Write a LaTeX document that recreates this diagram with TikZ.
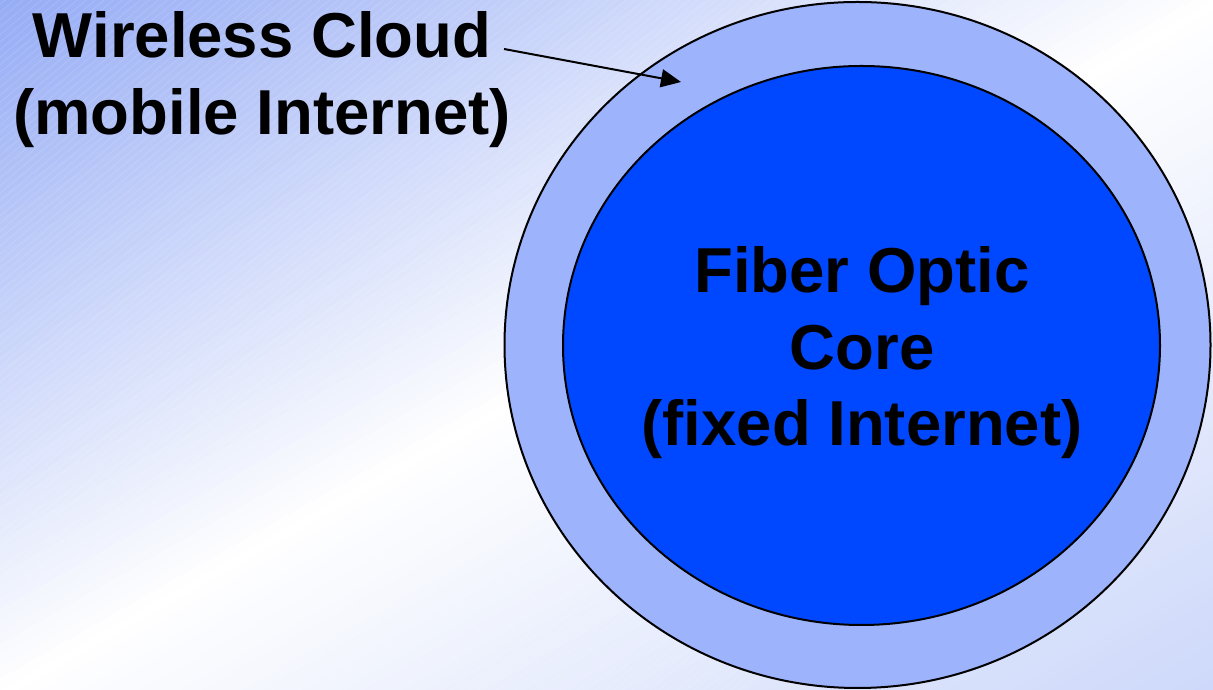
\documentclass[tikz,border=0pt]{standalone}
\usepackage{fontspec}
\setmainfont{Liberation Sans}
\usetikzlibrary{arrows.meta,shapes.geometric}
\definecolor{bgtl}{RGB}{150,172,245}
\definecolor{bgbr}{RGB}{205,216,250}
\definecolor{ringblue}{RGB}{157,180,253}
\definecolor{coreblue}{RGB}{0,72,255}
\begin{document}
\begin{tikzpicture}[x=1pt,y=1pt,
  lbl/.style={font=\fontsize{63.5}{76.5}\selectfont\bfseries, align=center, inner sep=0pt, text=black},
  disc/.style={ellipse, draw=black, line width=2pt, inner sep=0pt},
  pointer/.style={line width=2pt, -{Triangle[length=20pt,width=18pt]}}]
\useasboundingbox (0,0) rectangle (1213,690);
% background
\begin{scope}
  \clip (0,0) rectangle (1213,690);
  \begin{scope}[shift={(606.5,345)}, rotate=-60.37]
    \foreach \k in {0,...,119} {
      \pgfmathsetmacro{\t}{-600+10*\k}
      \pgfmathtruncatemacro{\pa}{min(100,(\k+0.5)/60*100)}
      \pgfmathtruncatemacro{\pb}{max(0,(\k+0.5-60)/60*100)}
      \ifnum\k<60
        \fill[white!\pa!bgtl] (\t,-900) rectangle (\t+10.8,900);
      \else
        \fill[bgbr!\pb!white] (\t,-900) rectangle (\t+10.8,900);
      \fi
    }
  \end{scope}
  \foreach \i in {-80,...,160} {
    \draw[white, opacity=0.15, line width=0.7pt] (\i*9-700,0) -- ++(40:1700);
  }
\end{scope}
% circles
\node[disc, fill=ringblue, minimum width=706pt, minimum height=686pt] (outer) at (857.5,345) {};
\node[disc, fill=coreblue, minimum width=597pt, minimum height=559pt] (core) at (861.5,344.5) {};
% texts
\node[lbl] (coretext) at (862,337) {Fiber Optic\\Core\\(fixed Internet)};
\node[lbl] (wireless) at (262,610.5) {Wireless Cloud\\(mobile Internet)};
% arrow
\coordinate (arrstart) at (504,641);
\coordinate (arrend) at (681,608);
\draw[pointer] (arrstart) -- (arrend);
\end{tikzpicture}
\end{document}
